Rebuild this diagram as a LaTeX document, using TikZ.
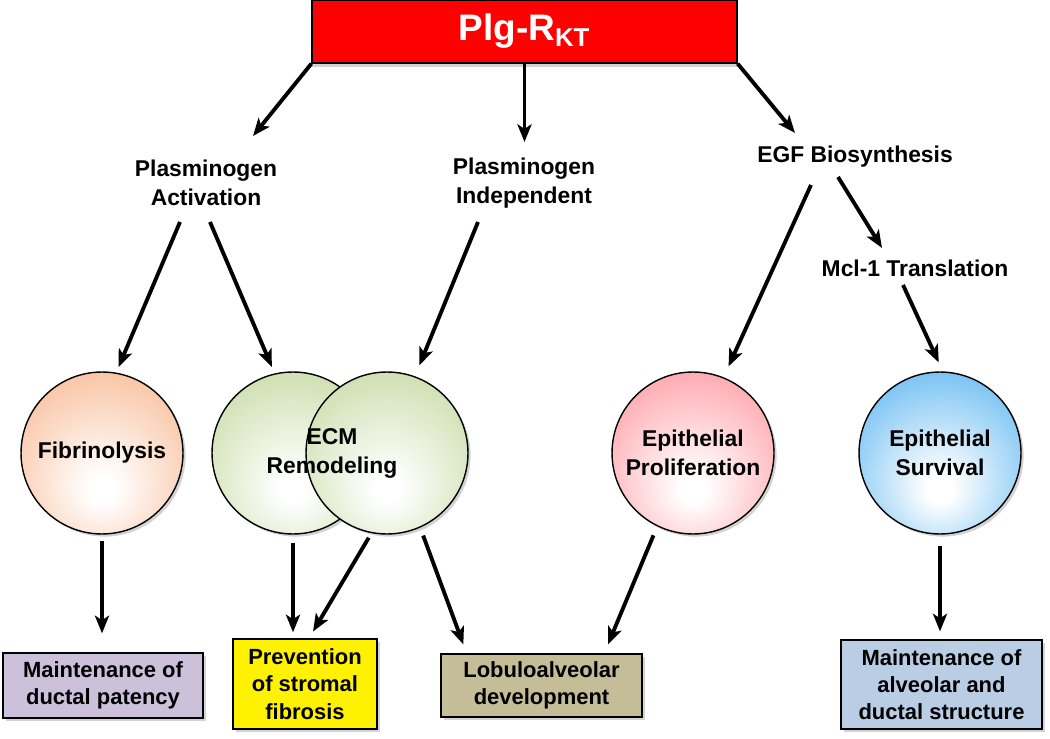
\documentclass[tikz,border=0pt]{standalone}
\usepackage{fontspec}
\setmainfont{Liberation Sans}
\usetikzlibrary{arrows.meta,shadows,calc}

\definecolor{fibcol}{RGB}{246,168,120}
\definecolor{ecmcol}{RGB}{183,208,138}
\definecolor{procol}{RGB}{255,128,138}
\definecolor{survcol}{RGB}{55,165,238}
\definecolor{ductcol}{RGB}{204,192,218}
\definecolor{lobcol}{RGB}{196,189,151}
\definecolor{alvcol}{RGB}{185,205,229}

\pgfdeclareradialshading{fibshade}{\pgfpoint{0bp}{-12bp}}{color(0bp)=(white); color(4bp)=(white); color(46bp)=(fibcol); color(70bp)=(fibcol)}
\pgfdeclareradialshading{ecmshade}{\pgfpoint{0bp}{-12bp}}{color(0bp)=(white); color(4bp)=(white); color(46bp)=(ecmcol); color(70bp)=(ecmcol)}
\pgfdeclareradialshading{proshade}{\pgfpoint{0bp}{-12bp}}{color(0bp)=(white); color(4bp)=(white); color(46bp)=(procol); color(70bp)=(procol)}
\pgfdeclareradialshading{survshade}{\pgfpoint{0bp}{-12bp}}{color(0bp)=(white); color(4bp)=(white); color(46bp)=(survcol); color(70bp)=(survcol)}

\begin{document}
\begin{tikzpicture}[x=0.02cm, y=-0.02cm,
    lbl/.style={font=\fontsize{13}{16.5}\selectfont\bfseries, align=center},
    bubble/.style={circle, draw, line width=0.8pt, minimum size=3.24cm, inner sep=0pt,
        align=center, font=\fontsize{13}{16.5}\selectfont\bfseries,
        drop shadow={shadow xshift=1.5pt, shadow yshift=-1.5pt, opacity=0.35}},
    outbox/.style={draw, line width=0.8pt, inner sep=0pt, align=center,
        font=\fontsize{12.5}{15.5}\selectfont\bfseries,
        drop shadow={shadow xshift=1.5pt, shadow yshift=-1.5pt, opacity=0.35}},
    arr/.style={line width=2.2pt, -{Stealth[length=10pt, width=8pt, inset=2.5pt]}}]

    \useasboundingbox (0,0) rectangle (1050,739);

    \node[draw, fill=red, line width=0.8pt, minimum width=8.5cm, minimum height=1.26cm,
        text=white, font=\fontsize{21}{25}\selectfont\bfseries,
        drop shadow={shadow xshift=0pt, shadow yshift=-2.5pt, opacity=0.35}]
        (plgr) at (524.5,31.5) {Plg-R\textsubscript{KT}};

    \node[lbl] (pa) at (206,183) {Plasminogen\\Activation};
    \node[lbl] (pi) at (524,183) {Plasminogen\\Independent};
    \node[lbl] (egf) at (855,157) {EGF Biosynthesis};
    \node[lbl] (mcl) at (915,268) {Mcl-1 Translation};

    \node[bubble, shading=fibshade] (fib) at (102,453) {Fibrinolysis};
    \node[bubble, shading=ecmshade] (ecmA) at (293,453) {};
    \node[bubble, shading=ecmshade] (ecmB) at (387,453) {};
    \node[lbl] (ecm) at (332,453) {ECM\\Remodeling};
    \node[bubble, shading=proshade] (prolif) at (693,453) {Epithelial\\Proliferation};
    \node[bubble, shading=survshade] (surv) at (940,453) {Epithelial\\Survival};

    \node[outbox, fill=ductcol, minimum width=4cm, minimum height=1.3cm]
        (duct) at (103,685.5) {Maintenance of\\ductal patency};
    \node[outbox, fill=yellow, minimum width=2.88cm, minimum height=1.8cm]
        (strom) at (305,684) {Prevention\\of stromal\\fibrosis};
    \node[outbox, fill=lobcol, minimum width=4.02cm, minimum height=1.26cm]
        (lob) at (541.5,685.5) {Lobuloalveolar\\development};
    \node[outbox, fill=alvcol, minimum width=4.02cm, minimum height=1.78cm]
        (alv) at (941.5,684.5) {Maintenance of\\alveolar and\\ductal structure};

    \draw[arr] (plgr.south west) -- ($(pa)+(47,-47)$);
    \draw[arr] (plgr.south) -- ($(pi)+(0.5,-41)$);
    \draw[arr] (plgr.south east) -- ($(egf)+(-60,-24)$);

    \draw[arr, shorten >=3.4pt] ($(pa)+(-26,39)$) -- (fib.80);
    \draw[arr, shorten >=4pt] ($(pa)+(4,39)$) -- (ecmA.103);
    \draw[arr, shorten >=6.8pt] ($(pi)+(-46,39)$) -- (ecmB.70);
    \draw[arr, shorten >=6.8pt] ($(egf)+(-44,28)$) -- (prolif.68);
    \draw[arr] ($(egf)+(-17,20)$) -- ($(mcl)+(-33,-20)$);
    \draw[arr, shorten >=5.6pt] ($(mcl)+(-12,17)$) -- (surv.88);

    \draw[arr, shorten <=3.4pt, shorten >=10.8pt] (fib) -- (fib |- duct.north);
    \draw[arr, shorten <=4.5pt, shorten >=3.4pt] (ecmA) -- (ecmA |- strom.north);
    \draw[arr, shorten <=3pt, shorten >=4.5pt] (ecmB.259) -- ($(strom.north)+(4,0)$);
    \draw[arr, shorten <=4.8pt, shorten >=5.4pt] (ecmB.294) -- ($(lob.north west)!0.13!(lob.north east)$);
    \draw[arr, shorten <=5.5pt, shorten >=5.5pt] (prolif.244) -- ($(lob.north west)!0.81!(lob.north east)$);
    \draw[arr, shorten <=6.2pt, shorten >=4.5pt] (surv) -- (surv |- alv.north);
\end{tikzpicture}
\end{document}
